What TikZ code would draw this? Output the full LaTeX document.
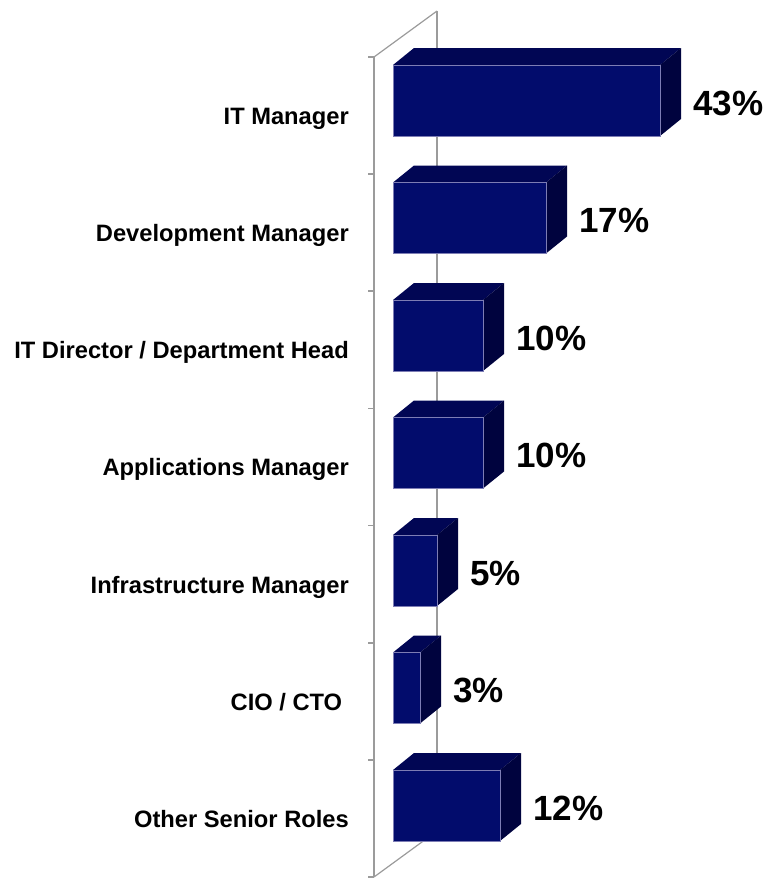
\documentclass[tikz,border=0pt]{standalone}
\usepackage{fontspec}
\setmainfont{Liberation Sans}
\definecolor{barfront}{RGB}{2,12,108}
\definecolor{bartop}{RGB}{1,6,84}
\definecolor{barside}{RGB}{0,3,62}
\definecolor{baredge}{RGB}{125,125,180}
\definecolor{axisgray}{RGB}{155,155,155}
\tikzset{
  catlabel/.style={anchor=base east, inner sep=0pt, font=\bfseries\fontsize{23.7}{28}\selectfont},
  pctlabel/.style={anchor=base west, inner sep=0pt, font=\bfseries\fontsize{35}{40}\selectfont},
}
\begin{document}
\begin{tikzpicture}[x=1pt, y=-1pt]
\useasboundingbox (0,0) rectangle (771,878);
% back wall and axis
\draw [axisgray, line width=2.6pt] (437,11) -- (437,831);
\draw [axisgray, line width=1.2pt] (374,57) -- (437,11);
\draw [axisgray, line width=1.2pt] (374,877) -- (437,831);
\draw [axisgray, line width=2.6pt] (374,57) -- (374,877);
\foreach \n in {0,...,7}
  \draw [axisgray, line width=1.8pt] (368,57+117.14*\n) -- (374,57+117.14*\n);
% bars
\foreach \n/\w/\txt/\pc in {0/267/{IT Manager}/43, 1/153/{Development Manager}/17,
    2/90/{IT Director / Department Head}/10, 3/90/{Applications Manager}/10,
    4/44/{Infrastructure Manager}/5, 5/27/{CIO / CTO\kern.28em}/3,
    6/107/{Other Senior Roles}/12} {
  \pgfmathsetmacro{\yt}{65+117.5*\n}
  \fill [bartop] (393,\yt) -- (414,\yt-17) -- (414+\w,\yt-17) -- (393+\w,\yt) -- cycle;
  \fill [barside] (393+\w,\yt) -- (414+\w,\yt-17) -- (414+\w,\yt+54) -- (393+\w,\yt+71) -- cycle;
  \draw [baredge, fill=barfront, line width=0.8pt] (393,\yt) rectangle (393+\w,\yt+71);
  \node [catlabel] (cat\n) at (349,124.5+117.14*\n) {\txt};
  \node [pctlabel] (pct\n) at (426+\w,\yt+50) {\pc\%};
}
\end{tikzpicture}
\end{document}
